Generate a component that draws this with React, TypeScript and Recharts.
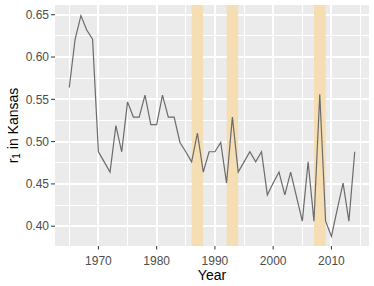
import React from 'react';
import { ComposedChart, Line, XAxis, YAxis, ReferenceArea, ReferenceLine } from 'recharts';

const years = [
  1965, 1966, 1967, 1968, 1969, 1970, 1971, 1972, 1973, 1974,
  1975, 1976, 1977, 1978, 1979, 1980, 1981, 1982, 1983, 1984,
  1985, 1986, 1987, 1988, 1989, 1990, 1991, 1992, 1993, 1994,
  1995, 1996, 1997, 1998, 1999, 2000, 2001, 2002, 2003, 2004,
  2005, 2006, 2007, 2008, 2009, 2010, 2011, 2012, 2013, 2014,
];
const r1Values = [
  0.564, 0.621, 0.649, 0.632, 0.621, 0.488, 0.476, 0.464, 0.519, 0.488,
  0.547, 0.529, 0.529, 0.555, 0.520, 0.520, 0.555, 0.529, 0.529, 0.499,
  0.488, 0.476, 0.510, 0.464, 0.488, 0.488, 0.499, 0.451, 0.529, 0.464,
  0.476, 0.488, 0.476, 0.488, 0.437, 0.451, 0.464, 0.437, 0.464, 0.435,
  0.406, 0.476, 0.406, 0.556, 0.406, 0.388, 0.420, 0.451, 0.406, 0.488,
];
const bandStarts = [1986, 1992, 2007];
const bandEnds = [1988, 1994, 2009];
const xTicks = [1970, 1980, 1990, 2000, 2010];
const xMinorTicks = [1965, 1975, 1985, 1995, 2005, 2015];
const yTicks = [0.4, 0.45, 0.5, 0.55, 0.6, 0.65];
const yMinorTicks = [0.425, 0.475, 0.525, 0.575, 0.625];
const xDomain = [1962.55, 2016.45];
const yDomain = [0.3766, 0.6615];

const data = years.map((y, i) => ({ year: y, r1: r1Values[i] }));
const FONT = '"Liberation Sans", Arial, Helvetica, sans-serif';

// horizontal gridline pieces between the shaded bands (bands hide the grid)
const gapStarts = [xDomain[0], ...bandEnds];
const gapEnds = [...bandStarts, xDomain[1]];

const YTitle = (props: any) => {
  const vb = props.viewBox || {};
  const x = 13;
  const y = (vb.y || 0) + (vb.height || 0) / 2;
  return (
    <text
      x={x}
      y={y}
      transform={`rotate(-90, ${x}, ${y})`}
      textAnchor="middle"
      dominantBaseline="central"
      fontFamily={FONT}
      fontSize={14}
      fill="#000"
    >
      <tspan>r</tspan>
      <tspan fontSize={10} dy={3}>1</tspan>
      <tspan dy={-3}> in Kansas</tspan>
    </text>
  );
};

const XTitle = (props: any) => {
  const vb = props.viewBox || {};
  const x = (vb.x || 0) + (vb.width || 0) / 2;
  const y = (vb.y || 0) + 34;
  return (
    <text x={x} y={y} textAnchor="middle" fontFamily={FONT} fontSize={14} fill="#000">
      Year
    </text>
  );
};

function hLines(values: number[], width: number, prefix: string) {
  const out: any[] = [];
  values.forEach((t) => {
    gapStarts.forEach((a, i) => {
      out.push(
        <ReferenceLine
          key={`${prefix}${t}-${i}`}
          segment={[{ x: a, y: t }, { x: gapEnds[i], y: t }]}
          stroke="#FFFFFF"
          strokeWidth={width}
          shapeRendering="crispEdges"
        />
      );
    });
  });
  return out;
}

export default function App() {
  return (
    <div style={{ position: 'absolute', left: 0, top: 0, width: 374, height: 286, background: '#fff' }}>
      <ComposedChart
        width={374}
        height={286}
        data={data}
        margin={{ top: 5, right: 5, bottom: 0, left: 0 }}
      >
        <XAxis
          dataKey="year"
          type="number"
          domain={xDomain}
          ticks={xTicks}
          allowDataOverflow
          height={40}
          axisLine={false}
          tickSize={3.5}
          tickMargin={6.5}
          tickLine={{ stroke: '#333333', strokeWidth: 1 }}
          tick={{ fill: '#4D4D4D', fontSize: 12, fontFamily: FONT }}
          label={<XTitle />}
        />
        <YAxis
          type="number"
          domain={yDomain}
          ticks={yTicks}
          allowDataOverflow
          width={55}
          axisLine={false}
          tickSize={4}
          tickMargin={2}
          tickLine={{ stroke: '#333333', strokeWidth: 1 }}
          tick={{ fill: '#4D4D4D', fontSize: 12, fontFamily: FONT }}
          tickFormatter={(v: number) => v.toFixed(2)}
          label={<YTitle />}
        />
        <ReferenceArea
          x1={xDomain[0]}
          x2={xDomain[1]}
          y1={yDomain[0]}
          y2={yDomain[1]}
          fill="#EBEBEB"
          fillOpacity={1}
          stroke="none"
        />
        {bandStarts.map((s, i) => (
          <ReferenceArea
            key={s}
            x1={s}
            x2={bandEnds[i]}
            fill="#F5DEB3"
            fillOpacity={1}
            stroke="none"
          />
        ))}
        {xMinorTicks.map((t) => (
          <ReferenceLine key={`xm${t}`} x={t} stroke="#FFFFFF" strokeWidth={1} shapeRendering="crispEdges" />
        ))}
        {hLines(yMinorTicks, 1, 'ym')}
        {xTicks.map((t) => (
          <ReferenceLine key={`xM${t}`} x={t} stroke="#FFFFFF" strokeWidth={2} shapeRendering="crispEdges" />
        ))}
        {hLines(yTicks, 2, 'yM')}
        <Line
          type="linear"
          dataKey="r1"
          stroke="#6B6B6B"
          strokeWidth={1.2}
          dot={false}
          isAnimationActive={false}
        />
      </ComposedChart>
    </div>
  );
}
